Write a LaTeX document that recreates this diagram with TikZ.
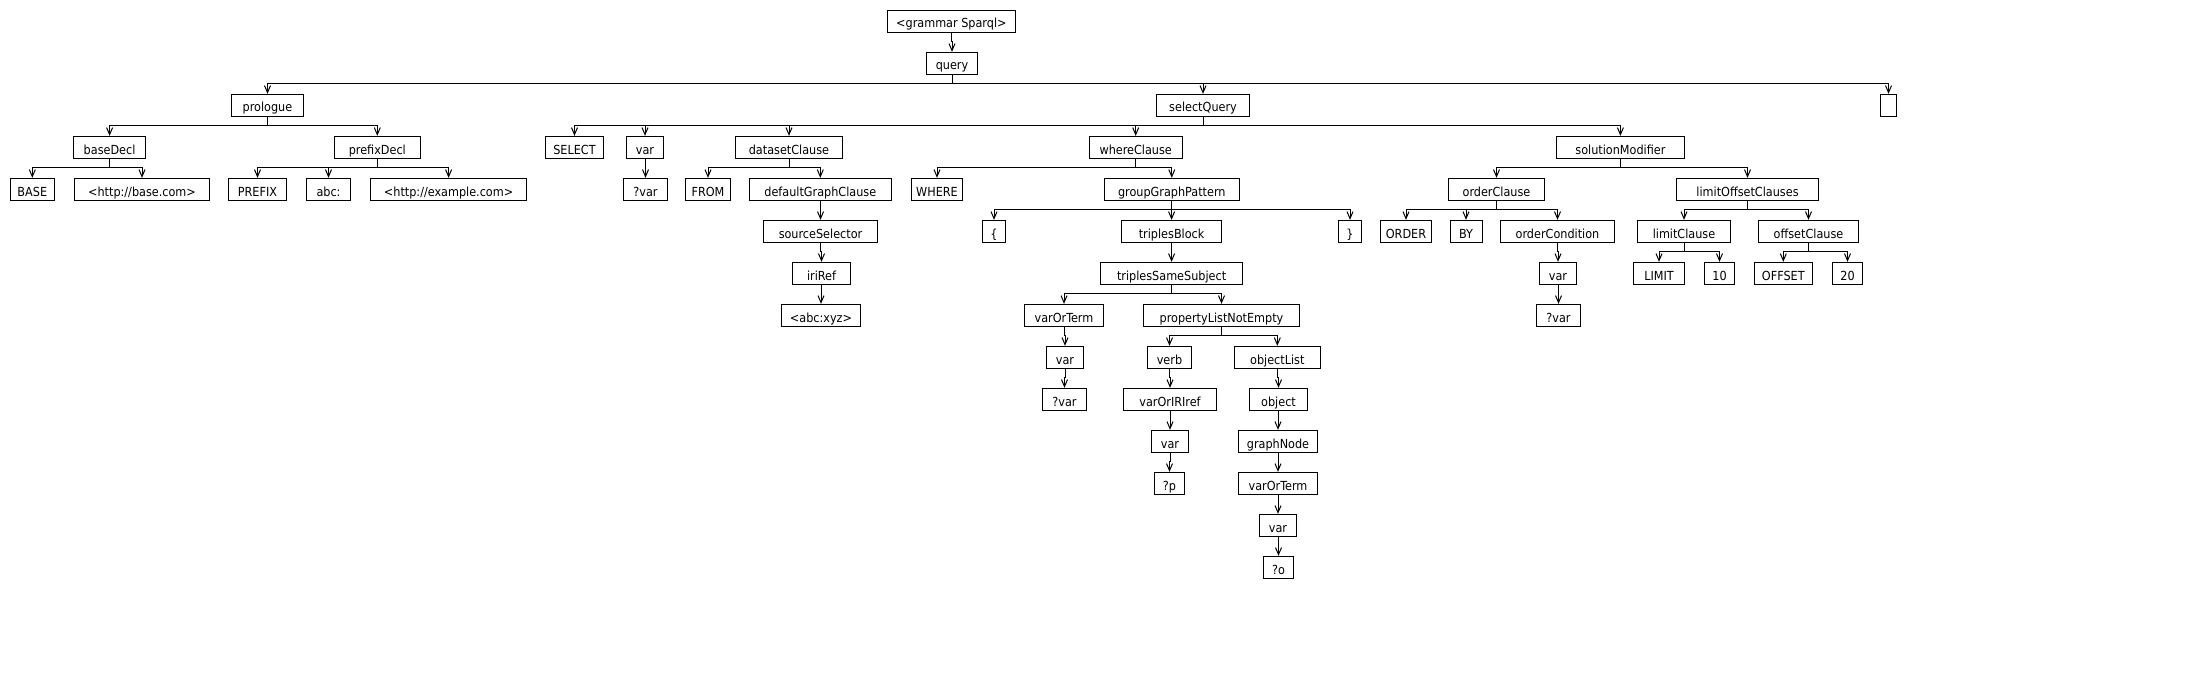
\documentclass[tikz,border=0pt]{standalone}
\usepackage{fontspec}
\setmainfont{DejaVu Sans Condensed}
\usetikzlibrary{arrows.meta}
\tikzset{
  tn/.style={draw, line width=1pt, inner sep=0pt, minimum height=22.3pt, text height=13pt, text depth=0pt, font=\fontsize{12.5}{14}\selectfont},
  ln/.style={line width=1pt, -{Straight Barb[length=7pt,width=6pt,line width=1pt]}}
}
\newcommand\nd[5]{\node[tn, minimum width=#4pt] (#1) at (#2,{21.5+42*#3}) {#5};}
\newcommand\ed[2]{\draw[ln] (#1.south) |- ([yshift=10pt]#2.north) -- (#2.north);}
\newcommand\eds[2]{\foreach \c in {#2} {\ed{#1}{\c}}}
\begin{document}
\begin{tikzpicture}[x=1pt,y=-1pt]
\useasboundingbox (0,0) rectangle (2190,674);
% row 0
\nd{grammar}{951.4}{0}{128}{<grammar Sparql>}
% row 1
\nd{query}{952}{1}{51.2}{query}
% row 2
\nd{prologue}{267.5}{2}{72}{prologue}
\nd{selectQuery}{1203}{2}{93}{selectQuery}
\nd{empty}{1888.5}{2}{16.3}{}
% row 3
\nd{baseDecl}{109.6}{3}{72}{baseDecl}
\nd{prefixDecl}{377.3}{3}{86}{prefixDecl}
\nd{SELECT}{574.5}{3}{58}{SELECT}
\nd{varA}{645}{3}{37}{var}
\nd{datasetClause}{789}{3}{107.6}{datasetClause}
\nd{whereClause}{1135.7}{3}{92.6}{whereClause}
\nd{solutionModifier}{1620.4}{3}{128}{solutionModifier}
% row 4
\nd{BASE}{32.3}{4}{44.3}{BASE}
\nd{httpbase}{142}{4}{135}{<http://base.com>}
\nd{PREFIX}{257.5}{4}{57.7}{PREFIX}
\nd{abc}{328.5}{4}{44.3}{abc:}
\nd{example}{448.6}{4}{156}{<http://example.com>}
\nd{qvarA}{645.5}{4}{44.3}{?var}
\nd{FROM}{708}{4}{44.3}{FROM}
\nd{defaultGraphClause}{820.3}{4}{142.4}{defaultGraphClause}
\nd{WHERE}{937}{4}{50.7}{WHERE}
\nd{groupGraphPattern}{1171.8}{4}{135}{groupGraphPattern}
\nd{orderClause}{1496.5}{4}{96}{orderClause}
\nd{limitOffsetClauses}{1747.5}{4}{142}{limitOffsetClauses}
% row 5
\nd{sourceSelector}{820.5}{5}{114}{sourceSelector}
\nd{lbrace}{994}{5}{23.3}{\{}
\nd{triplesBlock}{1171.6}{5}{100}{triplesBlock}
\nd{rbrace}{1350}{5}{23.3}{\}}
\nd{ORDER}{1406}{5}{51.2}{ORDER}
\nd{BY}{1466}{5}{32}{BY}
\nd{orderCondition}{1557.5}{5}{114}{orderCondition}
\nd{limitClause}{1684}{5}{93}{limitClause}
\nd{offsetClause}{1808.5}{5}{100}{offsetClause}
% row 6
\nd{iriRef}{821.5}{6}{58.2}{iriRef}
\nd{triplesSameSubject}{1171.6}{6}{142}{triplesSameSubject}
\nd{varB}{1558}{6}{36.8}{var}
\nd{LIMIT}{1659}{6}{50.8}{LIMIT}
\nd{ten}{1719.5}{6}{30.3}{10}
\nd{OFFSET}{1783.3}{6}{58.2}{OFFSET}
\nd{twenty}{1847.5}{6}{30.3}{20}
% row 7
\nd{abcxyz}{821}{7}{78.7}{<abc:xyz>}
\nd{varOrTermA}{1064}{7}{79.4}{varOrTerm}
\nd{pLNE}{1221.5}{7}{156.4}{propertyListNotEmpty}
\nd{qvarB}{1558.5}{7}{44.3}{?var}
% row 8
\nd{varC}{1065}{8}{37.4}{var}
\nd{verb}{1169.5}{8}{44.4}{verb}
\nd{objectList}{1277.3}{8}{86}{objectList}
% row 9
\nd{qvarC}{1064.5}{9}{44.4}{?var}
\nd{varOrIRIref}{1170}{9}{93.4}{varOrIRIref}
\nd{object}{1278.5}{9}{58.4}{object}
% row 10
\nd{varD}{1170}{10}{37.4}{var}
\nd{graphNode}{1278}{10}{79.4}{graphNode}
% row 11
\nd{qp}{1169.5}{11}{30.4}{?p}
\nd{varOrTermB}{1278}{11}{79.4}{varOrTerm}
% row 12
\nd{varE}{1278}{12}{37.4}{var}
% row 13
\nd{qo}{1278.5}{13}{30.4}{?o}
% edges
\ed{grammar}{query}
\eds{query}{prologue,selectQuery,empty}
\eds{prologue}{baseDecl,prefixDecl}
\eds{baseDecl}{BASE,httpbase}
\eds{prefixDecl}{PREFIX,abc,example}
\eds{selectQuery}{SELECT,varA,datasetClause,whereClause,solutionModifier}
\ed{varA}{qvarA}
\eds{datasetClause}{FROM,defaultGraphClause}
\ed{defaultGraphClause}{sourceSelector}
\ed{sourceSelector}{iriRef}
\ed{iriRef}{abcxyz}
\eds{whereClause}{WHERE,groupGraphPattern}
\eds{groupGraphPattern}{lbrace,triplesBlock,rbrace}
\ed{triplesBlock}{triplesSameSubject}
\eds{triplesSameSubject}{varOrTermA,pLNE}
\ed{varOrTermA}{varC}
\ed{varC}{qvarC}
\eds{pLNE}{verb,objectList}
\ed{verb}{varOrIRIref}
\ed{varOrIRIref}{varD}
\ed{varD}{qp}
\ed{objectList}{object}
\ed{object}{graphNode}
\ed{graphNode}{varOrTermB}
\ed{varOrTermB}{varE}
\ed{varE}{qo}
\eds{solutionModifier}{orderClause,limitOffsetClauses}
\eds{orderClause}{ORDER,BY,orderCondition}
\ed{orderCondition}{varB}
\ed{varB}{qvarB}
\eds{limitOffsetClauses}{limitClause,offsetClause}
\eds{limitClause}{LIMIT,ten}
\eds{offsetClause}{OFFSET,twenty}
\end{tikzpicture}
\end{document}
